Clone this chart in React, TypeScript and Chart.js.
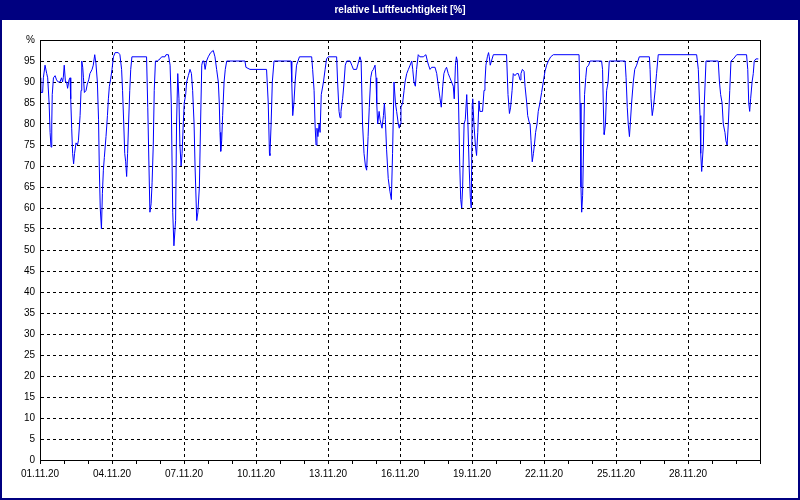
import React, { useEffect, useRef } from 'react';
import { Chart, registerables } from 'chart.js';

Chart.register(...registerables);

const titleText = 'relative Luftfeuchtigkeit [%]';

const xTickLabels = ['01.11.20', '04.11.20', '07.11.20', '10.11.20', '13.11.20', '16.11.20', '19.11.20', '22.11.20', '25.11.20', '28.11.20'];

// time in days since 01.11.20 00:00
const dayOffsets = [
  0.00, 0.03, 0.11, 0.14, 0.21, 0.28, 0.32, 0.38, 0.42, 0.46,
  0.49, 0.51, 0.56, 0.63, 0.69, 0.76, 0.83, 0.90, 0.94, 0.97,
  1.01, 1.06, 1.11, 1.15, 1.21, 1.25, 1.28, 1.32, 1.36, 1.40,
  1.44, 1.50, 1.56, 1.60, 1.67, 1.71, 1.74, 1.78, 1.81, 1.85,
  1.92, 1.97, 2.03, 2.08, 2.17, 2.22, 2.28, 2.33, 2.39, 2.44,
  2.47, 2.51, 2.56, 2.60, 2.64, 2.68, 2.75, 2.81, 2.85, 2.89,
  2.94, 3.00, 3.06, 3.13, 3.26, 3.33, 3.40, 3.44, 3.49, 3.53,
  3.57, 3.61, 3.65, 3.69, 3.74, 3.78, 3.83, 4.44, 4.49, 4.54,
  4.58, 4.63, 4.67, 4.72, 4.76, 4.81, 4.89, 5.00, 5.07, 5.21,
  5.25, 5.35, 5.42, 5.47, 5.53, 5.58, 5.65, 5.69, 5.74, 5.79,
  5.83, 5.88, 5.92, 5.97, 6.01, 6.07, 6.11, 6.18, 6.25, 6.31,
  6.36, 6.42, 6.46, 6.53, 6.58, 6.64,
  6.69, 6.74, 6.78, 6.83, 6.88, 6.94, 7.01, 7.11, 7.22, 7.29,
  7.36, 7.43, 7.47, 7.50, 7.53, 7.57, 7.61, 7.67, 7.72, 7.78,
  8.54, 8.58, 8.75, 9.44, 9.51, 9.56, 9.58, 9.63, 9.68, 9.75,
  10.46, 10.49, 10.53, 10.58, 10.63, 10.69, 10.81, 11.32, 11.36, 11.42,
  11.46, 11.50, 11.54, 11.58, 11.63, 11.67, 11.72, 11.81, 11.88, 11.94,
  12.01, 12.36, 12.40, 12.46, 12.50, 12.54, 12.61, 12.67, 12.72, 12.78,
  12.92, 12.99, 13.06, 13.19, 13.26, 13.33, 13.38, 13.44, 13.50, 13.56,
  13.61, 13.67, 13.72, 13.78, 13.83, 13.89, 13.96, 14.00, 14.03, 14.07,
  14.13, 14.17, 14.21, 14.25, 14.31, 14.35, 14.39, 14.44, 14.51, 14.58,
  14.64, 14.69, 14.75, 14.81, 14.86, 14.93, 14.97,
  15.00, 15.04, 15.11, 15.17, 15.21, 15.28, 15.35, 15.42, 15.49, 15.53,
  15.58, 15.64, 15.69, 15.76, 15.83, 15.97, 16.08, 16.14, 16.19, 16.25,
  16.32, 16.46, 16.53, 16.60, 16.67, 16.72, 16.78, 16.83, 16.89, 16.94,
  17.01, 17.08, 17.15, 17.22, 17.26, 17.31, 17.35, 17.39, 17.44, 17.49,
  17.53, 17.57, 17.61, 17.67, 17.72, 17.78, 17.83, 17.88, 17.93, 17.97,
  18.01, 18.03, 18.08, 18.14, 18.19, 18.24, 18.29, 18.33, 18.44, 18.50,
  18.54, 18.58, 18.64, 18.69, 18.72, 18.76, 18.81, 18.89, 19.44, 19.50,
  19.56, 19.61, 19.67, 19.72, 19.79, 19.86, 19.93, 20.00, 20.04, 20.10,
  20.17, 20.21, 20.28, 20.32, 20.38, 20.42, 20.46, 20.51, 20.56, 20.60,
  20.65, 20.71, 20.76, 20.83, 20.90, 20.97, 21.04, 21.11, 21.18, 21.28,
  21.39, 22.46, 22.50, 22.54, 22.57, 22.61, 22.65, 22.69, 22.74, 22.78,
  22.86, 22.92, 23.33,
  23.40, 23.44, 23.47, 23.50, 23.51, 23.56, 23.61, 23.67, 23.72, 24.38,
  24.42, 24.47, 24.51, 24.56, 24.60, 24.65, 24.72, 24.78, 24.86, 24.97,
  25.39, 25.42, 25.46, 25.51, 25.56, 25.63, 25.69, 25.76, 27.36, 27.43,
  27.50, 27.53, 27.57, 27.64, 27.68, 27.75, 28.26, 28.31, 28.36, 28.42,
  28.47, 28.54, 28.58, 28.63, 28.68, 28.74, 28.79, 28.89, 29.03, 29.44,
  29.49, 29.53, 29.57, 29.61, 29.67, 29.72, 29.76, 29.83, 29.93,
];

// relative humidity in %
const humidity = [
  91, 87.5, 87.5, 91, 94, 92, 91, 85, 78, 74.5,
  80, 87, 91, 91.5, 90.5, 90, 90, 91, 90, 91,
  94, 90, 90, 88.5, 90.5, 91, 86, 79, 73, 70.5,
  73, 75.5, 75, 76, 82, 88, 95, 93.5, 91, 87.5,
  88, 89.5, 90.5, 92, 93, 94, 96.5, 94.5, 90, 81,
  70, 60, 55, 63.5, 69, 72, 77, 82, 86, 89,
  90.5, 93, 96, 97, 97, 96.5, 93, 88, 80, 73,
  71, 67.5, 73, 80, 88, 93, 96, 96, 84, 70,
  59, 61, 66, 75, 88, 95, 95, 95.5, 96, 96,
  96.5, 96.5, 94, 85, 59, 51, 57, 80, 92, 86,
  75, 70, 73, 80, 85, 87, 90, 91.5, 93, 92,
  88, 80, 70, 57, 59, 65,
  80, 94, 95, 95, 93, 95, 96, 97, 97.5, 96,
  93, 90, 85, 78, 73.5, 76, 82, 90, 93, 95,
  95, 93.5, 93, 93, 85, 73, 72.5, 80, 90, 95,
  95, 90, 82, 85, 90, 94, 96, 96, 93, 88,
  80, 75, 79, 77, 80, 78, 87, 90, 93, 95.5,
  96, 96, 90, 83, 81.5, 83, 86, 90, 94, 95,
  95, 94, 93, 93, 94.5, 96, 95, 80, 73, 70,
  69, 77, 84, 91, 92.5, 93, 94, 91, 85, 80,
  83, 81, 80, 79, 82, 85, 81, 74, 67, 64,
  62, 73, 90, 85, 83, 80, 79,
  80, 84, 85, 88, 90, 92, 93, 94, 95, 93,
  90, 89, 93, 96.5, 96, 96, 96.5, 95, 94, 93,
  93.5, 93.5, 92, 89, 86, 84, 89, 92, 93, 93.5,
  92, 91, 90, 89, 86, 94, 96, 95, 85, 70,
  62, 60, 65, 80, 81, 87, 80, 70, 62.5, 60,
  85, 86, 80, 75, 72.5, 78, 85.5, 83, 83, 88,
  90, 94, 96, 97, 96, 94, 95, 96.5, 96.5, 87,
  82.5, 84, 88, 92, 91.5, 92, 92, 90.5, 92, 93,
  92.5, 89, 85, 82, 80.5, 80, 76, 71, 73, 75,
  78, 80, 83, 85, 87.5, 90, 92.5, 94, 95, 96,
  96.5, 96.5, 85, 65, 59, 63, 75, 87, 91, 93.5,
  94, 95, 95,
  95, 93, 85, 78, 77.5, 80, 88, 90, 95, 95,
  91, 84, 80, 77, 80.5, 85, 90, 93, 94, 96,
  96, 93, 86, 82, 84, 88, 92, 96.5, 96.5, 93,
  82, 73, 68.7, 75, 85, 95, 95, 90, 87, 85,
  80, 78, 76, 75, 80, 88, 95, 95.5, 96.5, 96.5,
  93, 85, 83, 86, 90, 92, 95, 95.5, 95.5,
];

const NAVY = '#000080';
const FONT = '"Liberation Sans", Arial, sans-serif';

const framePlugin = {
  id: 'frame',
  beforeDraw(chart: any) {
    const { ctx, width, height } = chart;
    ctx.save();
    ctx.fillStyle = '#ffffff';
    ctx.fillRect(0, 0, width, height);
    ctx.fillStyle = NAVY;
    ctx.fillRect(0, 0, width, 20);
    ctx.strokeStyle = NAVY;
    ctx.lineWidth = 2;
    ctx.strokeRect(1, 1, width - 2, height - 2);
    ctx.restore();
  },
  afterDraw(chart: any) {
    const { ctx, chartArea } = chart;
    ctx.save();
    ctx.strokeStyle = '#000000';
    ctx.lineWidth = 1;
    ctx.setLineDash([]);
    ctx.strokeRect(
      Math.round(chartArea.left) + 0.5,
      Math.round(chartArea.top) + 0.5,
      Math.round(chartArea.right - chartArea.left),
      Math.round(chartArea.bottom - chartArea.top)
    );
    ctx.restore();
  },
};

export default function App() {
  const canvasRef = useRef<HTMLCanvasElement | null>(null);

  useEffect(() => {
    if (!canvasRef.current) return;
    const points = dayOffsets.map((d, i) => ({ x: d, y: humidity[i] }));
    const chart = new Chart(canvasRef.current, {
      type: 'line',
      data: {
        datasets: [
          {
            data: points,
            borderColor: '#0000ff',
            borderWidth: 1,
            pointRadius: 0,
            tension: 0,
            fill: false,
          },
        ],
      },
      options: {
        animation: false,
        responsive: false,
        devicePixelRatio: 1,
        layout: { padding: { left: 0, right: 0, top: 0, bottom: 0 } },
        plugins: {
          legend: { display: false },
          tooltip: { enabled: false },
          title: {
            display: true,
            text: titleText,
            color: '#ffffff',
            font: { family: FONT, size: 10, weight: 'bold' },
            padding: { top: 4, bottom: 24 },
          },
        },
        scales: {
          x: {
            type: 'linear',
            min: 0,
            max: 30,
            afterFit(scale: any) {
              scale.height = 40;
            },
            ticks: {
              stepSize: 1,
              autoSkip: false,
              maxRotation: 0,
              padding: 4,
              color: '#000000',
              font: { family: FONT, size: 10 },
              callback(value: any) {
                const v = Number(value);
                if (v % 3 === 0 && v / 3 < xTickLabels.length) return xTickLabels[v / 3];
                return '';
              },
            },
            grid: {
              drawTicks: true,
              tickLength: 4,
              tickColor: '#000000',
              tickBorderDash: [],
              color: (ctx: any) => {
                const v = ctx.tick ? ctx.tick.value : 0;
                return v % 3 === 0 && v > 0 && v < 30 ? '#000000' : 'rgba(0,0,0,0)';
              },
              lineWidth: 1,
            },
            border: { display: true, color: '#000000', dash: [3, 3] },
          },
          y: {
            min: 0,
            max: 100,
            afterFit(scale: any) {
              scale.width = 40;
            },
            ticks: {
              stepSize: 5,
              padding: 5,
              color: '#000000',
              font: { family: FONT, size: 10 },
              callback(value: any) {
                return Number(value) === 100 ? '%' : String(value);
              },
            },
            grid: {
              drawTicks: false,
              color: (ctx: any) => {
                const v = ctx.tick ? ctx.tick.value : 0;
                return v > 0 && v < 100 ? '#000000' : 'rgba(0,0,0,0)';
              },
              lineWidth: 1,
            },
            border: { display: true, color: '#000000', dash: [3, 3] },
          },
          yRightSpacer: {
            type: 'linear',
            position: 'right',
            min: 0,
            max: 100,
            afterFit(scale: any) {
              scale.width = 40;
            },
            ticks: { display: false },
            grid: { display: false, drawTicks: false },
            border: { display: false },
          },
        },
      } as any,
      plugins: [framePlugin],
    });
    return () => chart.destroy();
  }, []);

  return (
    <div style={{ position: 'fixed', left: 0, top: 0, width: 800, height: 500, background: '#ffffff' }}>
      <canvas ref={canvasRef} width={800} height={500} style={{ display: 'block', width: 800, height: 500 }} />
    </div>
  );
}
